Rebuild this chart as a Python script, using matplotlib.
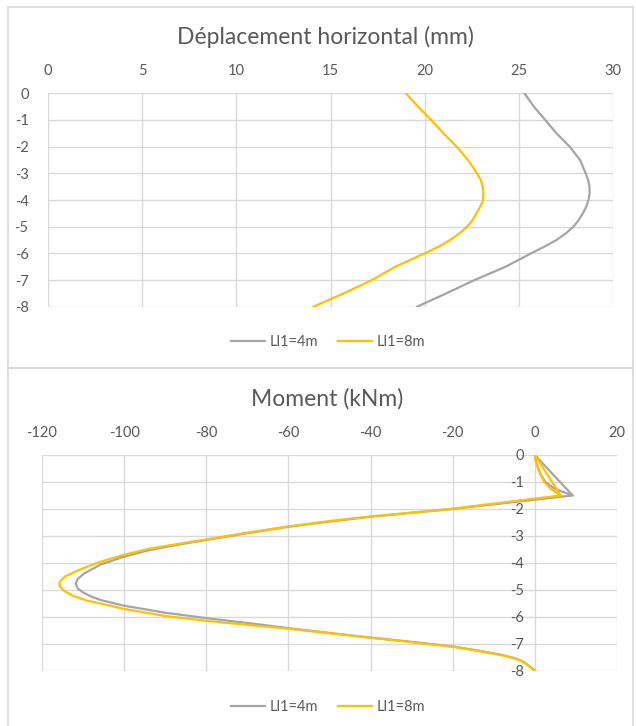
import matplotlib
matplotlib.use("Agg")
from matplotlib import pyplot as plt
from matplotlib.patches import Rectangle

plt.rcParams["font.family"] = ["Lato", "DejaVu Sans"]

# --- données ---
labels = ["Ll1=4m", "Ll1=8m"]
colors = ["#A5A5A5", "#FFC000"]

# déplacement horizontal (mm) en fonction de la profondeur (m)
z_dep = [0, -0.5, -1, -1.5, -2, -2.5, -3, -3.25, -3.5, -3.75, -4, -4.25, -4.5, -4.75, -5, -5.25,
         -5.5, -5.75, -6, -6.5, -7, -7.5, -8]
dep_4m = [25.3, 25.8, 26.4, 27.0, 27.7, 28.25, 28.55, 28.68, 28.75, 28.76, 28.7, 28.58, 28.4, 28.18,
          27.9, 27.5, 27.0, 26.35, 25.65, 24.3, 22.65, 21.15, 19.6]
dep_8m = [19.0, 19.65, 20.35, 21.0, 21.7, 22.3, 22.78, 22.98, 23.08, 23.12, 23.1, 22.95, 22.75, 22.55,
          22.25, 21.85, 21.35, 20.75, 20.0, 18.45, 17.2, 15.7, 14.1]

# moment (kNm) en fonction de la profondeur (m)
z_mom_4m = [0, -0.25, -0.5, -0.75, -1.0, -1.25, -1.5, -2.0, -2.29, -2.47, -2.66, -2.9, -3.15, -3.33,
            -3.53, -3.77, -4.06, -4.4, -4.6, -4.77, -4.95, -5.1, -5.25, -5.38, -5.59, -5.85, -6.05,
            -6.23, -6.42, -6.6, -6.77, -6.93, -7.1, -7.25, -7.4, -7.53, -7.65, -7.85, -8.0]
mom_4m = [0, 0.3, 0.8, 1.5, 2.6, 4.8, 9.2, -20, -40, -50, -60, -70, -80, -87,
          -94, -100, -105.7, -109.8, -111.3, -111.8, -111.3, -110, -108, -105.7, -100, -90, -80,
          -70, -60, -50, -40, -30, -20, -14, -8.5, -5, -3, -1.2, 0]
z_mom_8m = [0, -0.25, -0.5, -0.75, -1.0, -1.25, -1.5, -2.0, -2.28, -2.45, -2.65, -2.88, -3.13, -3.3,
            -3.48, -3.7, -3.97, -4.25, -4.5, -4.65, -4.77, -4.9, -5.05, -5.22, -5.4, -5.55, -5.71,
            -5.97, -6.15, -6.3, -6.44, -6.61, -6.78, -6.94, -7.11, -7.26, -7.41, -7.54, -7.66,
            -7.86, -8.0]
mom_8m = [0, 0.3, 0.8, 1.4, 2.3, 3.8, 6.3, -20.5, -40, -50, -60, -70, -80, -87,
          -94, -100, -106, -110.8, -114.3, -115.4, -115.8, -115.5, -114.5, -112.5, -109, -104.5, -100,
          -90, -80, -70, -60, -50, -40, -30, -20, -14, -8.5, -5, -3,
          -1.2, 0]
# corde en tête de pieu (retour direct vers 0)
chord_z = [0, -1.5]
chord_4m = [0, 9.2]
chord_8m = [0, 6.3]

dep_ticks = [0, 5, 10, 15, 20, 25, 30]
mom_ticks = [-120, -100, -80, -60, -40, -20, 0, 20]
z_ticks = [0, -1, -2, -3, -4, -5, -6, -7, -8]

TXT = "#595959"
GRID = "#D9D9D9"
W, H = 636, 726
LW = 1.6

fig = plt.figure(figsize=(W / 100, H / 100), dpi=100)


def fx(px):
    return px / W


def fy(py):
    return 1 - py / H


# cadres des deux graphiques
for y0, y1 in [(7, 368), (368, 740)]:
    fig.patches.append(Rectangle((fx(8), fy(y1)), fx(633) - fx(8), fy(y0) - fy(y1),
                                 transform=fig.transFigure, fill=False,
                                 edgecolor=GRID, linewidth=1.2))


def style_axes(ax, xticks):
    ax.xaxis.tick_top()
    ax.set_xticks(xticks)
    ax.set_yticks(z_ticks)
    ax.set_ylim(-8, 0)
    ax.set_xlim(xticks[0], xticks[-1])
    ax.grid(True, color=GRID, linewidth=1.0)
    ax.set_axisbelow(True)
    for s in ax.spines.values():
        s.set_visible(False)
    ax.tick_params(length=0, labelsize=10.5, colors=TXT)
    ax.tick_params(axis="x", pad=11)
    ax.set_yticklabels([str(t) for t in z_ticks])
    ax.set_xticklabels([str(t) for t in xticks])


def add_legend(ax, ypx):
    fig.legend(*ax.get_legend_handles_labels(), loc="center", bbox_to_anchor=(fx(328), fy(ypx)),
               ncol=2, frameon=False, fontsize=10.5, labelcolor=TXT, handlelength=2.3,
               handletextpad=0.3, columnspacing=1.4)


# --- déplacement horizontal ---
ax1 = fig.add_axes([fx(48), fy(306.7), fx(613) - fx(48), fy(93.3) - fy(306.7)])
ax1.plot(dep_4m, z_dep, color=colors[0], lw=LW, label=labels[0])
ax1.plot(dep_8m, z_dep, color=colors[1], lw=LW, label=labels[1])
style_axes(ax1, dep_ticks)
ax1.tick_params(axis="y", pad=14)
fig.text(fx(325), fy(37), "Déplacement horizontal (mm)", ha="center", va="center",
         fontsize=16.5, color=TXT)
add_legend(ax1, 342)

# --- moment ---
ax2 = fig.add_axes([fx(42), fy(670.7), fx(617) - fx(42), fy(455) - fy(670.7)])
ax2.plot(mom_4m, z_mom_4m, color=colors[0], lw=LW, label=labels[0])
ax2.plot(chord_4m, chord_z, color=colors[0], lw=LW)
ax2.plot(mom_8m, z_mom_8m, color=colors[1], lw=LW, label=labels[1])
ax2.plot(chord_8m, chord_z, color=colors[1], lw=LW)
style_axes(ax2, mom_ticks)
ax2.spines["left"].set_position(("data", 0))
ax2.tick_params(axis="y", pad=8)
fig.text(fx(327), fy(399), "Moment (kNm)", ha="center", va="center",
         fontsize=16.5, color=TXT)
add_legend(ax2, 707)

fig.savefig("out.png", dpi=100)
